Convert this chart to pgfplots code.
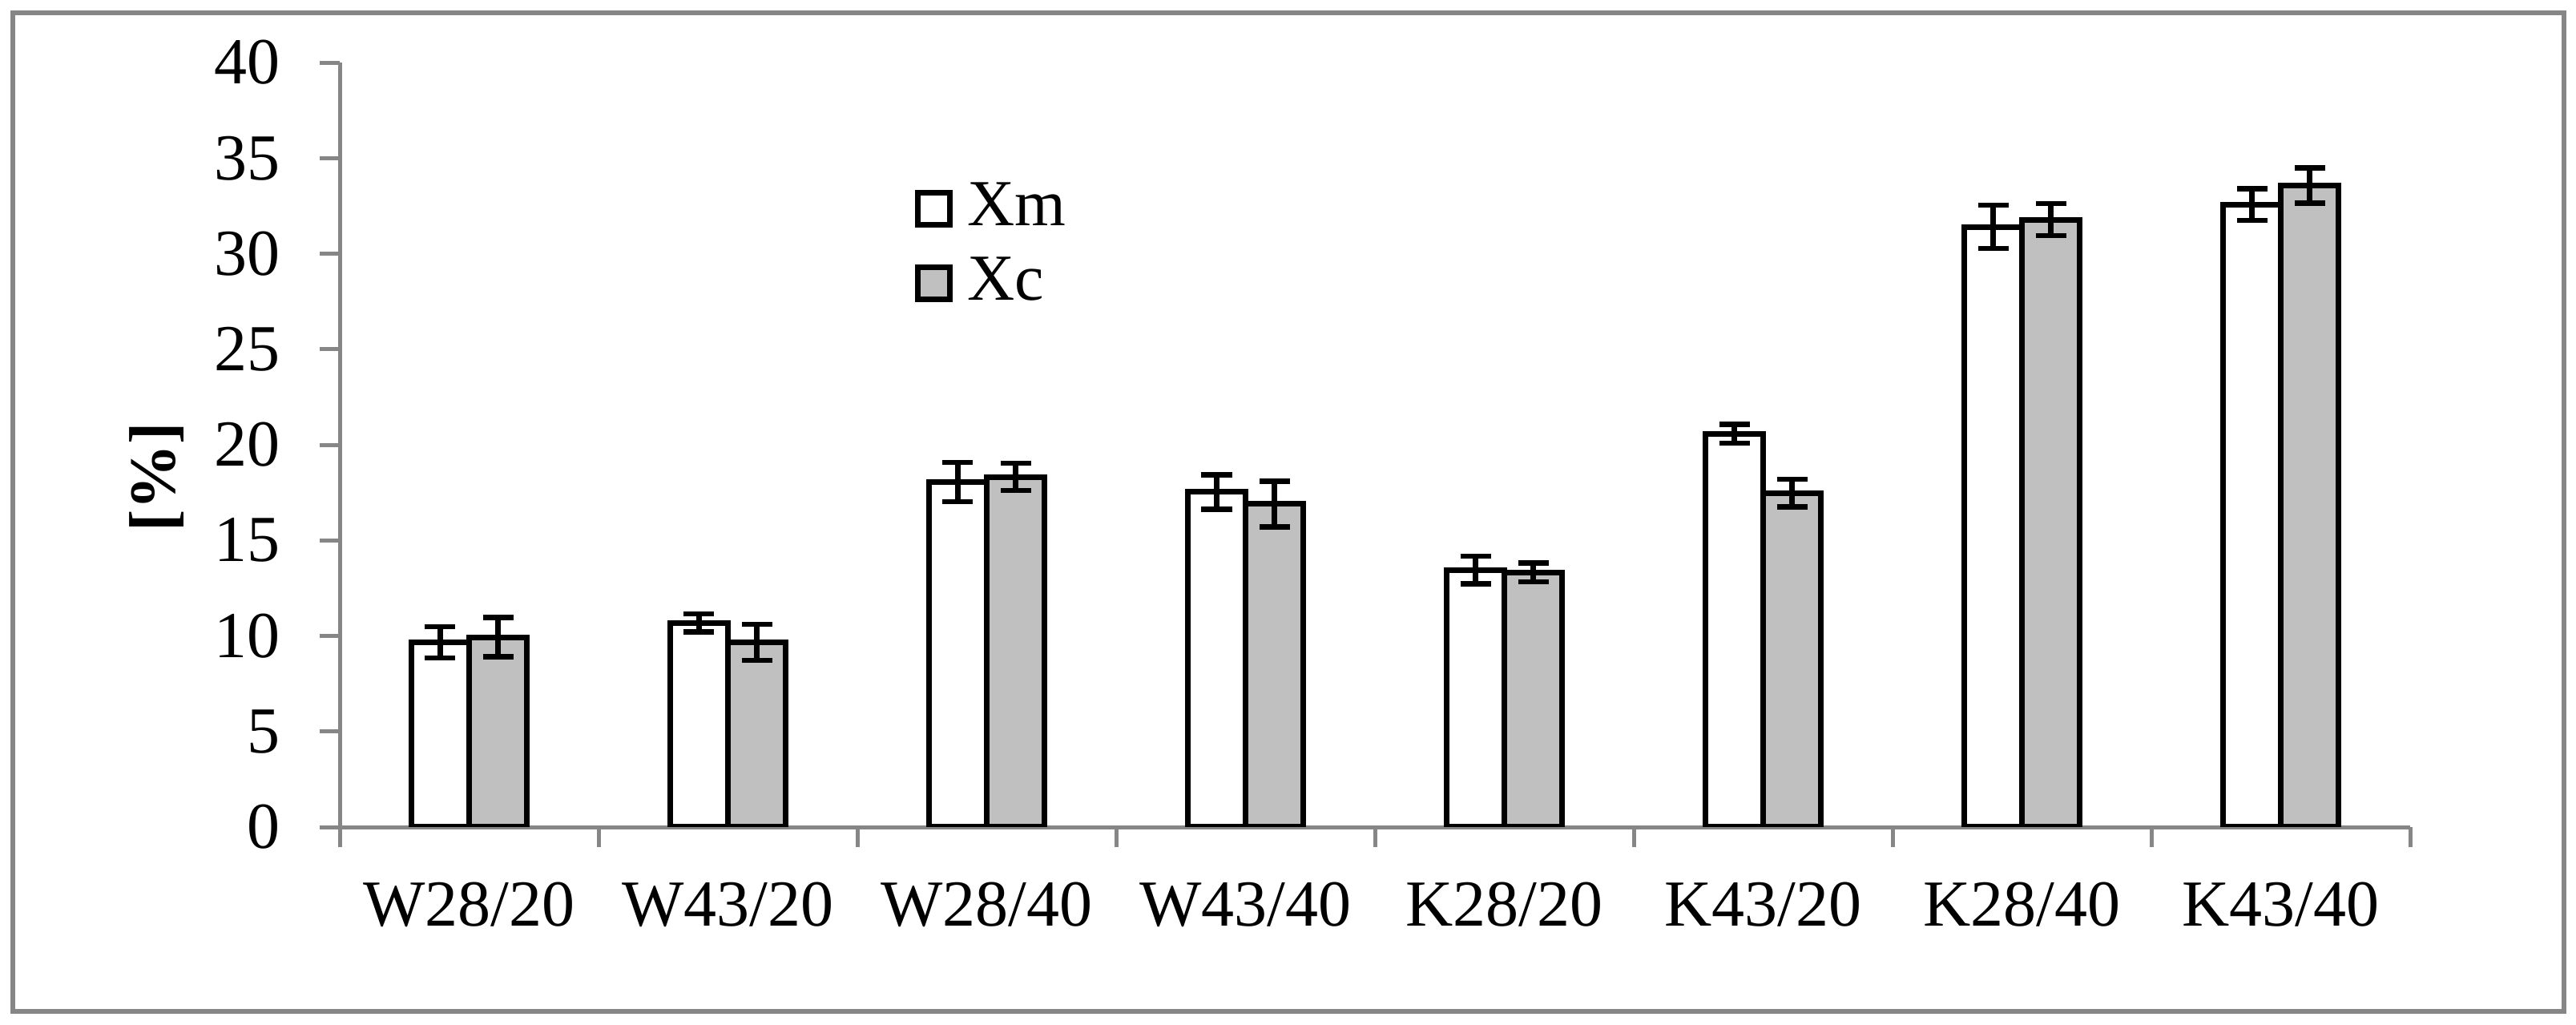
\documentclass[border=0pt]{standalone}
\usepackage{pgfplots}
\pgfplotsset{compat=1.18}
\usepackage{pgfplotstable}
\usepackage{fontspec}
\setmainfont{Liberation Serif}
\definecolor{axgray}{HTML}{868686}
\definecolor{barfill}{HTML}{C0C0C0}
\pgfplotstableread{
x  y     e
1  9.66  0.82
2  10.68 0.48
3  18.05 1.03
4  17.53 0.90
5  13.45 0.72
6  20.58 0.50
7  31.40 1.13
8  32.57 0.82
}\xmtable
\pgfplotstableread{
x  y     e
1  9.93  1.03
2  9.66  0.94
3  18.32 0.72
4  16.90 1.19
5  13.32 0.50
6  17.47 0.72
7  31.78 0.84
8  33.56 0.92
}\xctable
\begin{document}
\fontsize{16.4bp}{19.7bp}\selectfont
\begin{tikzpicture}
\useasboundingbox (0,0) rectangle (643bp,255.8bp);
\draw[axgray, line width=1.2bp] (3.2bp,3.4bp) rectangle (640bp,252.6bp);
\begin{axis}[
  at={(84.8bp,49.4bp)}, anchor=south west,
  scale only axis, width=516.8bp, height=190.8bp,
  xmin=0.5, xmax=8.5, ymin=0, ymax=40,
  axis x line*=bottom, axis y line*=left,
  axis line style={axgray, line width=1bp},
  tick style={axgray, line width=1bp},
  tick align=outside, major tick length=5bp,
  ytick={0,5,...,40},
  xtick={0.5,1.5,...,8.5},
  x tick label as interval,
  xticklabels={W28/20,W43/20,W28/40,W43/40,K28/20,K43/20,K28/40,K43/40},
  /pgf/number format/assume math mode=true,
  yticklabel style={anchor=east, inner sep=0pt, xshift=-9.8bp},
  xticklabel style={anchor=north, inner sep=0pt, yshift=-8.6bp},
  ylabel={\textbf{[\%]}},
  ylabel style={at={(axis description cs:-0.0886,0.458)}, anchor=center},
  legend image code/.code={\draw[#1, line width=1.4bp] (0.7bp,-4bp) rectangle (8.7bp,4bp); \path (12.4bp,0bp);},
  legend style={at={(rel axis cs:0.2775,0.844)}, anchor=north west, draw=none, fill=none,
    inner sep=0pt, row sep=5.4bp, nodes={inner sep=0pt}},
  legend cell align=left,
]
\addplot[ybar, bar width=0.223, bar shift=0, fill=white, draw=black, line width=1.4bp,
  error bars/.cd, y dir=both, y explicit,
  error bar style={line width=1.3bp, black},
  error mark options={rotate=90, mark size=3.8bp, line width=1.3bp, black}]
  table[x expr=\thisrow{x}-0.1115, y=y, y error=e] {\xmtable};
\addlegendentry{Xm}
\addplot[ybar, bar width=0.223, bar shift=0, fill=barfill, draw=black, line width=1.4bp,
  error bars/.cd, y dir=both, y explicit,
  error bar style={line width=1.3bp, black},
  error mark options={rotate=90, mark size=3.8bp, line width=1.3bp, black}]
  table[x expr=\thisrow{x}+0.1115, y=y, y error=e] {\xctable};
\addlegendentry{Xc}
\end{axis}
\end{tikzpicture}
\end{document}
